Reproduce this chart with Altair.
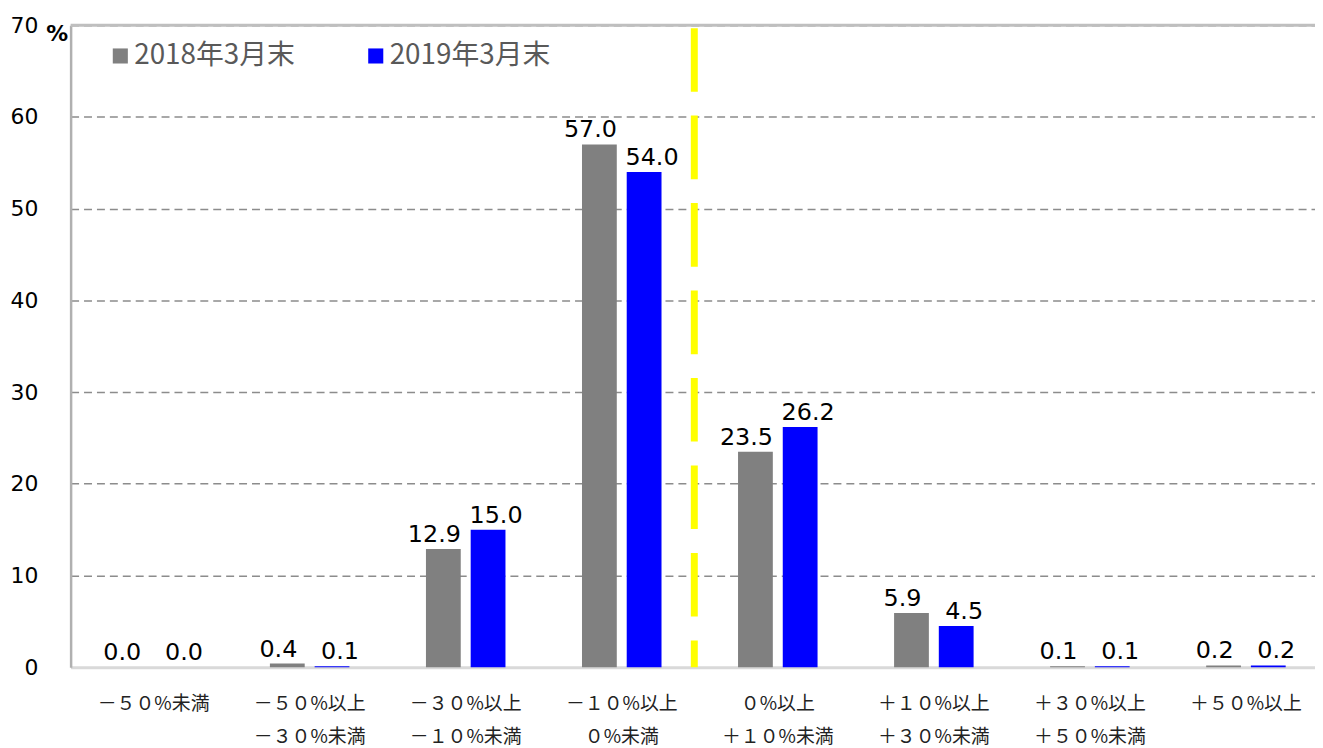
import altair as alt
import pandas as pd

categories = [
    "－５０%未満",
    "－５０%以上\n－３０%未満",
    "－３０%以上\n－１０%未満",
    "－１０%以上\n０%未満",
    "０%以上\n＋１０%未満",
    "＋１０%以上\n＋３０%未満",
    "＋３０%以上\n＋５０%未満",
    "＋５０%以上",
]
series_names = ["2018年3月末", "2019年3月末"]
values_2018 = [0.0, 0.4, 12.9, 57.0, 23.5, 5.9, 0.1, 0.2]
values_2019 = [0.0, 0.1, 15.0, 54.0, 26.2, 4.5, 0.1, 0.2]
series_colors = ["#808080", "#0000ff"]
divider_category = categories[3]

rows = []
for c, v in zip(categories, values_2018):
    rows.append({"cat": c, "series": series_names[0], "value": v})
for c, v in zip(categories, values_2019):
    rows.append({"cat": c, "series": series_names[1], "value": v})
df = pd.DataFrame(rows)
df_div = pd.DataFrame({"cat": [divider_category]})

PLOT_W = 1252
PLOT_H = 646

x_scale = alt.Scale(domain=categories, paddingInner=0.4904, paddingOuter=0.2325, align=0.596)
y_scale = alt.Scale(domain=[0, 70], nice=False)

x_enc = alt.X(
    "cat:N",
    sort=categories,
    scale=x_scale,
    title=None,
    axis=alt.Axis(
        labelAngle=0,
        labelExpr="split(datum.label, '\\n')",
        labelFont="Noto Sans CJK JP",
        labelFontSize=19,
        labelColor="#222222",
        labelLineHeight=33,
        labelBaseline="top",
        labelPadding=28,
        ticks=False,
        domainColor="#d9d9d9",
        domainWidth=3,
        labelLimit=300,
    ),
)
y_enc = alt.Y(
    "value:Q",
    scale=y_scale,
    axis=alt.Axis(
        values=[0, 10, 20, 30, 40, 50, 60, 70],
        title="%",
        titleAngle=0,
        titleAlign="center",
        titleBaseline="middle",
        titleX=-14,
        titleY=8,
        titleFont="DejaVu Sans",
        titleFontSize=22,
        titleFontWeight="bold",
        titleColor="#000000",
        labelFont="DejaVu Sans",
        labelFontSize=22,
        labelColor="#000000",
        labelPadding=33,
        ticks=False,
        domainColor="#b0b0b0",
        domainWidth=2.5,
        grid=True,
        gridDash=[8, 5],
        gridColor="#8c8c8c",
        gridWidth=1.5,
    ),
)
xoff = alt.XOffset("series:N", sort=series_names, scale=alt.Scale(paddingInner=0.222))

bars = alt.Chart(df).mark_bar().encode(
    x=x_enc,
    xOffset=xoff,
    y=y_enc,
    color=alt.Color(
        "series:N",
        sort=series_names,
        scale=alt.Scale(domain=series_names, range=series_colors),
        legend=alt.Legend(
            title=None,
            orient="none",
            legendX=36,
            legendY=17,
            direction="horizontal",
            symbolType="square",
            symbolSize=230,
            symbolStrokeWidth=0,
            labelFont="Noto Sans CJK JP",
            labelFontSize=28,
            labelColor="#595959",
            labelOffset=0,
            labelLimit=400,
            columnPadding=67,
            padding=0,
        ),
    ),
)

def label_layer(name, dx):
    return (
        alt.Chart(df)
        .transform_filter(alt.datum.series == name)
        .mark_text(
            font="DejaVu Sans",
            fontSize=24,
            color="#000000",
            baseline="alphabetic",
            align="center",
            dy=-7,
            dx=dx,
        )
        .encode(
            x=alt.X("cat:N", sort=categories, scale=x_scale),
            xOffset=xoff,
            y=alt.Y("value:Q", scale=y_scale),
            text=alt.Text("value:Q", format=".1f"),
        )
    )

labels_a = label_layer(series_names[0], -9)
labels_b = label_layer(series_names[1], 8)

divider = alt.Chart(df_div).mark_rule(
    color="#ffff00", strokeWidth=7, strokeDash=[64, 24], strokeDashOffset=85
).encode(
    x=alt.X("cat:N", sort=categories, scale=x_scale),
    xOffset=alt.value(113),
    y=alt.datum(70),
    y2=alt.datum(0),
)

top_border = alt.Chart(df_div).mark_rule(color="#bfbfbf", strokeWidth=3).encode(
    y=alt.datum(70),
    x=alt.value(0),
    x2=alt.value(PLOT_W),
)

chart = (
    alt.layer(bars, labels_a, labels_b, divider, top_border)
    .properties(
        width=PLOT_W,
        height=PLOT_H,
        autosize=alt.AutoSizeParams(type="none"),
        padding={"left": 63, "top": 15, "right": 0, "bottom": 80},
        background="#ffffff",
    )
    .configure_view(stroke=None)
)

chart.save("out.html", embed_options={"renderer": "svg", "actions": False})
